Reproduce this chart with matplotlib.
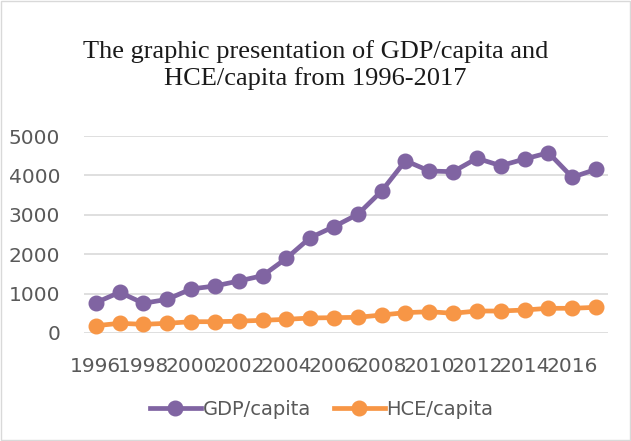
import matplotlib
matplotlib.use("Agg")
import matplotlib.pyplot as plt
from matplotlib.patches import Rectangle

PURPLE = "#8064a2"
ORANGE = "#f79646"

years = list(range(1996, 2018))
gdp = [770, 1033, 754, 855, 1117, 1193, 1320, 1455, 1895, 2420, 2700,
       3013, 3604, 4373, 4112, 4094, 4434, 4246, 4416, 4576, 3952, 4155]
hce = [185, 246, 220, 246, 287, 287, 301, 322, 347, 381, 390,
       398, 457, 516, 541, 500, 558, 558, 584, 627, 627, 652]
y_ticks = [0, 1000, 2000, 3000, 4000, 5000]

fig = plt.figure(figsize=(6.31, 4.41), dpi=100)
fig.patches.append(Rectangle((0.002, 0.002), 0.996, 0.996, transform=fig.transFigure,
                             fill=False, edgecolor="#d9d9d9", linewidth=1))
ax = fig.add_axes([0.133, 0.2449, 0.8305, 0.4467])

for vals, color, label in [(gdp, PURPLE, "GDP/capita"), (hce, ORANGE, "HCE/capita")]:
    ax.plot(years, vals, "o-", color=color, linewidth=3.4, markersize=10.5,
            label=label, clip_on=False, zorder=3)

ax.set_xlim(1995.5, 2017.5)
ax.set_ylim(0, 5000)
ax.set_yticks(y_ticks)
ax.set_xticks(years[::2])
ax.set_xticklabels([str(y) for y in years[::2]])
ax.tick_params(axis="both", length=0, labelsize=14.5, labelcolor="#595959")
ax.tick_params(axis="y", pad=17)
ax.tick_params(axis="x", pad=17)
ax.grid(axis="y", color="#d9d9d9", linewidth=1.2)
ax.set_axisbelow(True)
for s in ax.spines.values():
    s.set_visible(False)

fig.text(0.5, 0.853, "The graphic presentation of GDP/capita and\nHCE/capita from 1996-2017",
         ha="center", va="center", fontsize=19, family="Liberation Serif",
         linespacing=1.2, color="#1a1a1a")

ax.legend(loc="center", bbox_to_anchor=(0.51, 0.072), bbox_transform=fig.transFigure,
          ncol=2, frameon=False, fontsize=14, handlelength=2.6, columnspacing=1.2,
          handletextpad=0.1, labelcolor="#595959")

fig.savefig("out.png", dpi=100)
